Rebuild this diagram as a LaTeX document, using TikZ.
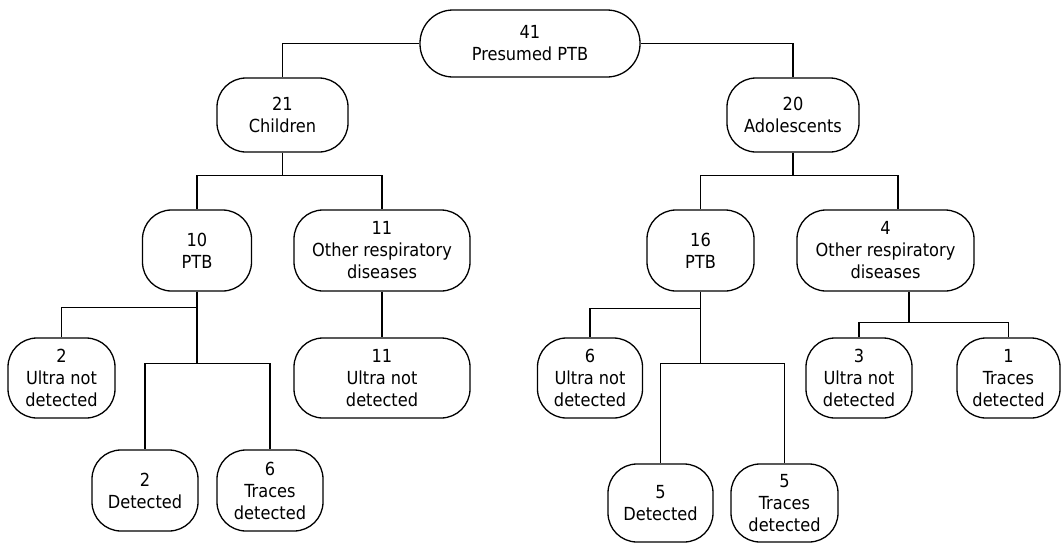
\documentclass[tikz,border=0pt]{standalone}
\usepackage{fontspec}
\setmainfont{DejaVu Sans Condensed}
\begin{document}
\begin{tikzpicture}[x=1pt,y=-1pt,
  box/.style={draw, line width=1.3pt, rounded corners=29pt, align=center, inner sep=0pt,
    text=black, font=\fontsize{18}{22}\selectfont},
  conn/.style={line width=1.3pt}]
\useasboundingbox (0,0) rectangle (1061,544);
% level 0
\node[box, minimum width=220pt, minimum height=67pt, rounded corners=33pt] (root) at (530,43.5) {41\\Presumed PTB};
% level 1
\node[box, minimum width=131pt, minimum height=74pt] (chi) at (282.5,115) {21\\Children};
\node[box, minimum width=132pt, minimum height=74pt] (ado) at (793,115) {20\\Adolescents};
% level 2
\node[box, minimum width=109pt, minimum height=81pt] (ptbA) at (197,250.5) {10\\PTB};
\node[box, minimum width=176pt, minimum height=81pt] (othA) at (382,250.5) {11\\Other respiratory\\diseases};
\node[box, minimum width=107pt, minimum height=81pt] (ptbB) at (700.5,250.5) {16\\PTB};
\node[box, minimum width=177pt, minimum height=81pt] (othB) at (885.5,250.5) {4\\Other respiratory\\diseases};
% level 3
\node[box, minimum width=107pt, minimum height=80pt] (uA) at (61.5,378) {2\\Ultra not\\detected};
\node[box, minimum width=176pt, minimum height=80pt] (uAo) at (382,378) {11\\Ultra not\\detected};
\node[box, minimum width=105pt, minimum height=80pt] (uB) at (590,378) {6\\Ultra not\\detected};
\node[box, minimum width=106pt, minimum height=80pt] (uBo) at (859,378) {3\\Ultra not\\detected};
\node[box, minimum width=103pt, minimum height=80pt] (tBo) at (1008.5,378) {1\\Traces\\detected};
% level 4
\node[box, minimum width=106pt, minimum height=81pt] (dA) at (145,490.5) {2\\Detected};
\node[box, minimum width=106pt, minimum height=81pt] (tA) at (270,490.5) {6\\Traces\\detected};
\node[box, minimum width=105pt, minimum height=78pt] (dB) at (660.5,503) {5\\Detected};
\node[box, minimum width=107pt, minimum height=78pt] (tB) at (784.5,503) {5\\Traces\\detected};
% connectors
\draw[conn] (root.west) -| (chi.north);
\draw[conn] (root.east) -| (ado.north);
\draw[conn] (chi.south) -- ++(0,23) coordinate (cj) -| (ptbA.north);
\draw[conn] (cj) -| (othA.north);
\draw[conn] (ado.south) -- ++(0,23) coordinate (aj) -| (ptbB.north);
\draw[conn] (aj) -| ([xshift=12.5pt]othB.north);
\draw[conn] (ptbA.south) -- ++(0,16) coordinate (pa1) -| (uA.north);
\draw[conn] (pa1) -- ++(0,56) coordinate (pa2) -| (dA.north);
\draw[conn] (pa2) -| (tA.north);
\draw[conn] (othA.south) -- (uAo.north);
\draw[conn] (ptbB.south) -- ++(0,17) coordinate (pb1) -| (uB.north);
\draw[conn] (pb1) -- ++(0,55) coordinate (pb2) -| (dB.north);
\draw[conn] (pb2) -| (tB.north);
\draw[conn] ([xshift=23.5pt]othB.south) -- ++(0,31) coordinate (ob) -| (uBo.north);
\draw[conn] (ob) -| (tBo.north);
\end{tikzpicture}
\end{document}
